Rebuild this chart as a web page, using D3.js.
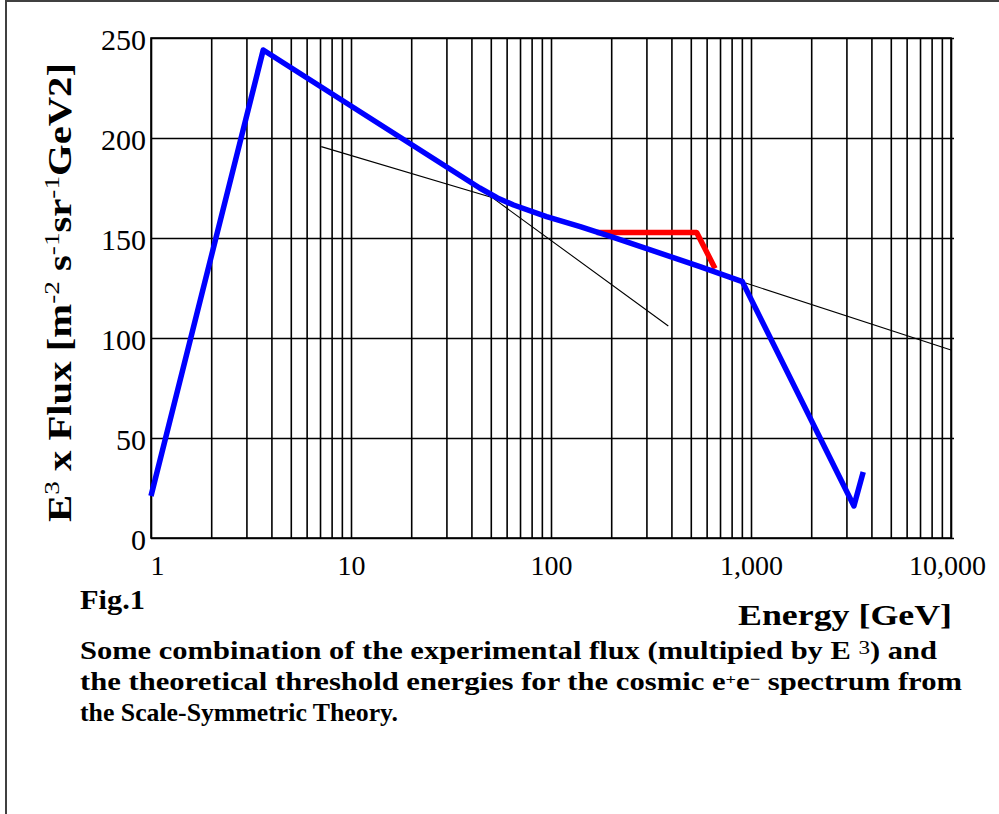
<!DOCTYPE html>
<html>
<head>
<meta charset="utf-8">
<script src="https://cdn.jsdelivr.net/npm/d3@7"></script>
<style>
  html, body { margin: 0; padding: 0; background: #ffffff; }
  svg { display: block; }
</style>
</head>
<body>
<svg id="chart" width="999" height="814"></svg>
<script>
// ---- data ----
const xTickValues = [1, 10, 100, 1000, 10000];
const yTickValues = [0, 50, 100, 150, 200, 250];

const blueEnergy = [1, 3.64, 44, 54, 65, 95, 140, 205, 556, 905, 3270, 3640];
const blueFlux   = [21, 244, 175, 170, 166.5, 160.7, 155.7, 150.3, 135.7, 128.2, 16, 33];

const redEnergy = [169, 535, 661];
const redFlux   = [152.8, 152.8, 134.8];

const thinAEnergy = [7.1, 50.7, 386];
const thinAFlux   = [195.7, 170.3, 106];

const thinBEnergy = [940, 10000];
const thinBFlux   = [127.5, 94];

(function () {
// ---- layout ----
const svg = d3.select("#chart");
const W = 999, H = 814;
const pL = 151, pR = 951, pT = 38, pB = 538;
const serif = "'Liberation Serif', 'Times New Roman', serif";

svg.append("rect").attr("width", W).attr("height", H).attr("fill", "#ffffff");
// frame (top and left border of the screenshot)
svg.append("line").attr("x1", 5).attr("x2", W).attr("y1", 1).attr("y2", 1)
  .attr("stroke", "#404040").attr("stroke-width", 2);
svg.append("line").attr("x1", 6).attr("x2", 6).attr("y1", 0).attr("y2", H)
  .attr("stroke", "#404040").attr("stroke-width", 2);

const x = d3.scaleLog().domain([1, 10000]).range([pL, pR]);
const y = d3.scaleLinear().domain([0, 250]).range([pB, pT]);

// vertical grid (log minor ticks)
const xGrid = svg.append("g").attr("transform", `translate(0,${pB})`)
  .call(d3.axisBottom(x).tickValues(x.ticks()).tickSize(-(pB - pT)).tickFormat(""));
xGrid.select(".domain").remove();
xGrid.selectAll(".tick line").attr("stroke", "#000").attr("stroke-width", 1.6);

// horizontal grid
const yGrid = svg.append("g").attr("transform", `translate(${pL},0)`)
  .call(d3.axisLeft(y).tickValues(yTickValues).tickSize(-(pR - pL + 3)).tickFormat(""));
yGrid.select(".domain").remove();
yGrid.selectAll(".tick line").attr("stroke", "#000").attr("stroke-width", 1.6);

// plot border
svg.append("rect").attr("x", pL).attr("y", pT)
  .attr("width", pR - pL).attr("height", pB - pT)
  .attr("fill", "none").attr("stroke", "#000").attr("stroke-width", 1.6);

// tick labels
const xAxis = svg.append("g").attr("transform", `translate(0,${pB})`)
  .call(d3.axisBottom(x).tickValues(xTickValues).tickSize(0).tickPadding(0)
    .tickFormat(d3.format(",")));
xAxis.select(".domain").remove();
xAxis.selectAll("text")
  .attr("font-family", serif).attr("font-size", 28).attr("fill", "#000")
  .attr("dy", null).attr("y", 37)
  .attr("dx", d => d === 1 ? 6 : (d === 10000 ? -4 : 0));

const yAxis = svg.append("g").attr("transform", `translate(${pL},0)`)
  .call(d3.axisLeft(y).tickValues(yTickValues).tickSize(0).tickPadding(0));
yAxis.select(".domain").remove();
yAxis.selectAll("text")
  .attr("font-family", serif).attr("font-size", 30).attr("fill", "#000")
  .attr("dy", null).attr("x", -5).attr("y", 11).attr("text-anchor", "end");

// lines
const line = d3.line().x(d => x(d[0])).y(d => y(d[1]));
const zip = (a, b) => a.map((v, i) => [v, b[i]]);

svg.append("path").datum(zip(thinAEnergy, thinAFlux)).attr("d", line)
  .attr("fill", "none").attr("stroke", "#000").attr("stroke-width", 1.1);
svg.append("path").datum(zip(thinBEnergy, thinBFlux)).attr("d", line)
  .attr("fill", "none").attr("stroke", "#000").attr("stroke-width", 1.1);
svg.append("path").datum(zip(redEnergy, redFlux)).attr("d", line)
  .attr("fill", "none").attr("stroke", "#ff0000").attr("stroke-width", 5.5)
  .attr("stroke-linejoin", "round");
svg.append("path").datum(zip(blueEnergy, blueFlux)).attr("d", line)
  .attr("fill", "none").attr("stroke", "#0000ff").attr("stroke-width", 5.5)
  .attr("stroke-linejoin", "round");

// axis titles
svg.append("text").attr("x", 952).attr("y", 625).attr("text-anchor", "end")
  .attr("font-family", serif).attr("font-weight", "bold").attr("font-size", 30)
  .attr("textLength", 214).attr("lengthAdjust", "spacingAndGlyphs")
  .text("Energy [GeV]");

const yt = svg.append("text")
  .attr("transform", "translate(71,522) rotate(-90)")
  .attr("text-anchor", "start")
  .attr("font-family", serif).attr("font-weight", "bold").attr("font-size", 33)
  .attr("textLength", 459).attr("lengthAdjust", "spacingAndGlyphs");
yt.append("tspan").text("E");
yt.append("tspan").attr("baseline-shift", "super").attr("font-size", 22).attr("font-weight", "normal").text("3");
yt.append("tspan").text(" x  Flux [m");
yt.append("tspan").attr("baseline-shift", "super").attr("font-size", 22).attr("font-weight", "normal").text("-2");
yt.append("tspan").text(" s");
yt.append("tspan").attr("baseline-shift", "super").attr("font-size", 22).attr("font-weight", "normal").text("-1");
yt.append("tspan").text("sr");
yt.append("tspan").attr("baseline-shift", "super").attr("font-size", 22).attr("font-weight", "normal").text("-1");
yt.append("tspan").text("GeV2]");

// caption
svg.append("text").attr("x", 80).attr("y", 609)
  .attr("font-family", serif).attr("font-weight", "bold").attr("font-size", 28)
  .attr("textLength", 65).attr("lengthAdjust", "spacingAndGlyphs")
  .text("Fig.1");

const c1 = svg.append("text").attr("x", 80).attr("y", 659)
  .attr("font-family", serif).attr("font-weight", "bold").attr("font-size", 25)
  .attr("textLength", 857).attr("lengthAdjust", "spacingAndGlyphs");
c1.append("tspan").text("Some combination of the experimental flux (multipied by E ");
c1.append("tspan").attr("dy", -5).attr("font-size", 19).attr("font-weight", "normal").text("3");
c1.append("tspan").attr("dy", 5).text(") and");

const c2 = svg.append("text").attr("x", 80).attr("y", 690)
  .attr("font-family", serif).attr("font-weight", "bold").attr("font-size", 25)
  .attr("textLength", 882).attr("lengthAdjust", "spacingAndGlyphs");
c2.append("tspan").text("the theoretical threshold energies for the cosmic e");
c2.append("tspan").attr("dy", -6).attr("font-size", 15).text("+");
c2.append("tspan").attr("dy", 6).text("e");
c2.append("tspan").attr("dy", -6).attr("font-size", 15).text("\u2212");
c2.append("tspan").attr("dy", 6).text(" spectrum from");

svg.append("text").attr("x", 80).attr("y", 721)
  .attr("font-family", serif).attr("font-weight", "bold").attr("font-size", 25)
  .attr("textLength", 318).attr("lengthAdjust", "spacingAndGlyphs")
  .text("the Scale-Symmetric Theory.");
})();
</script>
</body>
</html>
